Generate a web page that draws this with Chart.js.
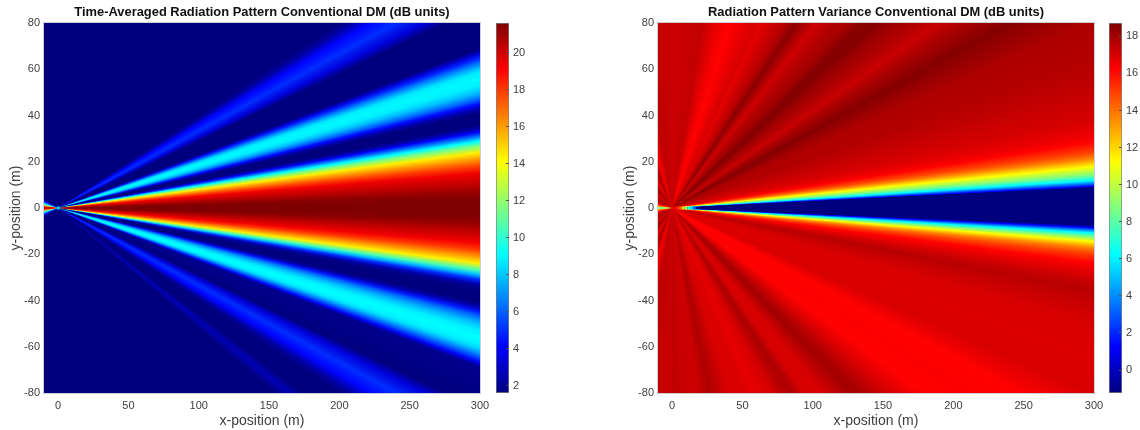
<!DOCTYPE html>
<html>
<head>
<meta charset="utf-8">
<script src="https://cdn.jsdelivr.net/npm/chart.js@4/dist/chart.umd.js"></script>
<style>
  body { margin: 0; background: #fff; width: 1140px; height: 430px; overflow: hidden; }
  canvas { position: absolute; top: 0; }
</style>
</head>
<body>
<canvas id="plotA" width="524" height="430" style="left:0"></canvas>
<canvas id="barA" width="45" height="430" style="left:490px"></canvas>
<canvas id="plotB" width="524" height="430" style="left:614px"></canvas>
<canvas id="barB" width="37" height="430" style="left:1103px"></canvas>
<script>
const xTicks = [0, 50, 100, 150, 200, 250, 300];
const yTicks = [-80, -60, -40, -20, 0, 20, 40, 60, 80];
const barTicksA = [2, 4, 6, 8, 10, 12, 14, 16, 18, 20];
const barTicksB = [0, 2, 4, 6, 8, 10, 12, 14, 16, 18];
const rangeA = [1.62, 21.6];
const rangeB = [-1.24, 18.72];

// readings along rays from the origin, keyed by the height the ray reaches at x=300
const edgeYA = [0, 3, 6, 9, 12, 15, 18, 21, 24, 27, 29, 31, 33, 34, 36, 41, 43, 45, 47, 50, 53, 56, 59, 61, 63, 65, 67, 69, 87, 92, 100, 108, 115, 120, 138, 146, 156, 90000];
const upperA = [21.6, 21.6, 21.3, 20.6, 20, 19.4, 17.9, 16.2, 14.4, 11.4, 9.1, 6.4, 4, 2.8, 1.62, 1.62, 2.6, 4.3, 6, 7.8, 8.8, 9, 8.7, 7.6, 6.3, 4.8, 3.2, 1.62, 1.62, 3.4, 5, 4.2, 2.2, 1.62, 1.62, 1.62, 1.62, 1.62];
const lowerA = [21.6, 21.6, 21.3, 20.6, 20, 19.3, 18, 16.2, 14.4, 10.6, 7.8, 5, 2.6, 2, 1.62, 1.62, 2.6, 4.6, 6.2, 7.8, 8.8, 9.1, 8.9, 8.3, 7, 5.5, 3.8, 1.9, 1.62, 3.4, 5, 4.2, 2.2, 1.62, 1.62, 2.7, 1.62, 1.62];

const edgeYUpperB = [0, 8.8, 9.4, 12, 14.3, 17.9, 21.5, 24, 28.7, 32, 38, 45, 55, 65, 80, 90, 100, 115, 126, 140, 155, 165, 178, 190, 205, 234, 255, 272, 300, 335, 375, 402, 480, 588, 750, 1100, 3150, 90000];
const upperB = [-1.24, -1.24, 1.26, 6.25, 8.7, 11.2, 13.7, 14.9, 16.2, 16.6, 17, 17.2, 17.5, 17.7, 17.8, 18.2, 18.6, 17.9, 17.3, 17.8, 18.2, 18.6, 18.5, 18, 17.8, 17.2, 17.9, 18.5, 17.6, 17.2, 16.8, 17, 16.6, 16.2, 16.6, 17.4, 17.3, 17.2];
const edgeYLowerB = [0, 7.6, 8.5, 10.8, 12.5, 14.5, 17.4, 20, 23.8, 28, 32, 36, 42, 50, 65, 80, 97, 115, 134, 155, 175, 189, 205, 225, 255, 280, 300, 340, 420, 450, 600, 900, 1300, 3000, 90000];
const lowerB = [-1.24, -1.24, 1.26, 6.25, 8.7, 11.2, 13.7, 15, 16.2, 16.8, 17.3, 17.6, 17.3, 17, 16.9, 17, 16.2, 16.3, 16.2, 17, 17.8, 18, 17.5, 17, 17, 17.8, 17.7, 17, 16.7, 16.9, 17, 17.8, 17.2, 17.3, 17.5];

// behind the array, keyed by the height at x=-10
const backYA = [0, 0.5, 1, 1.5, 2, 2.5, 3, 3.5, 4, 9000];
const backA = [20.5, 19.5, 15.5, 10.5, 8, 6, 4, 2.4, 1.62, 1.62];
const backYB = [0, 0.3, 0.6, 1, 1.5, 2.5, 4, 6, 8, 11, 15, 22, 40, 3000];
const backB = [6, 9, 12, 14.5, 16, 17.3, 17.8, 17, 18.2, 16.8, 18, 16.5, 17.5, 17.3];

// near field along y=0, which does not follow the rays
const nearXA = [-1, 1.5];
const nearA = [8, 8];
const nearXB = [0, 3, 5, 7, 9, 11, 13, 15, 17];
const nearB = [16.5, 15.5, 14, 12, 9, 7, 5.5, 3, 0];

const jetStops = [0, 1 / 8, 3 / 8, 5 / 8, 7 / 8, 1];
const jetColors = [[0, 0, 127], [0, 0, 255], [0, 255, 255], [255, 255, 0], [255, 0, 0], [127, 0, 0]];
const labelColor = '#404040';
const fontName = '"Liberation Sans", Arial, sans-serif';

const jet = (v, range) => {
    const t = Math.min(1, Math.max(0, (v - range[0]) / (range[1] - range[0])));
    let i = 0;
    while (i < jetStops.length - 2 && t > jetStops[i + 1]) i++;
    const f = (t - jetStops[i]) / (jetStops[i + 1] - jetStops[i]);
    const c = jetColors[i].map((a, k) => Math.round(a + (jetColors[i + 1][k] - a) * f));
    return `rgb(${c[0]},${c[1]},${c[2]})`;
};

// fill of one wedge, going from one reading to the next around the origin
const wedgeFill = (chart, ray1, ray2, c1, c2) => {
    const xs = chart.scales.x, ys = chart.scales.y;
    if (!chart.chartArea || !xs || !ys) return c1;
    const cx = xs.getPixelForValue(0), cy = ys.getPixelForValue(0);
    if (!isFinite(cx) || !isFinite(cy)) return c1;
    const angle = r => Math.atan2(ys.getPixelForValue(r.y) - cy, xs.getPixelForValue(r.x) - cx);
    let a1 = angle(ray1), a2 = angle(ray2);
    if (a2 - a1 > Math.PI) a2 -= 2 * Math.PI;
    if (a1 - a2 > Math.PI) a1 -= 2 * Math.PI;
    const lo = Math.min(a1, a2), hi = Math.max(a1, a2);
    const cLo = a1 < a2 ? c1 : c2, cHi = a1 < a2 ? c2 : c1;
    const pad = 0.02, turn = 2 * Math.PI;
    const g = chart.ctx.createConicGradient(lo - pad, cx, cy);
    g.addColorStop(0, cLo);
    g.addColorStop(pad / turn, cLo);
    g.addColorStop((hi - lo + pad) / turn, cHi);
    g.addColorStop((hi - lo + 2 * pad) / turn, cHi);
    g.addColorStop(1, cLo);
    return g;
};

const farPoint = (slope, side, dir) => {
    const t = Math.atan(slope);
    return { x: dir * 900 * Math.cos(t), y: side * 900 * Math.sin(t) };
};

// each wedge also reaches back under the one before it, so no seams show
const wedges = (heights, values, reach, side, dir, range) => {
    const sets = [];
    for (let i = 0; i < heights.length - 1; i++) {
        const s1 = heights[i] / reach, s2 = heights[i + 1] / reach;
        const under = i > 0 ? heights[i - 1] / reach : (side < 0 ? -s2 : 0);
        const c1 = jet(values[i], range), c2 = jet(values[i + 1], range);
        const r1 = farPoint(s1, side, dir), r2 = farPoint(s2, side, dir);
        sets.push({
            data: [{ x: 0, y: 0 }, farPoint(under, side, dir), r2],
            showLine: true,
            fill: 'shape',
            borderWidth: 0,
            borderColor: 'rgba(0,0,0,0)',
            pointRadius: 0,
            backgroundColor: ctx => wedgeFill(ctx.chart, r1, r2, c1, c2)
        });
    }
    return sets;
};

const nearLine = (xs, values, range) => xs.slice(1).map((x, i) => ({
    data: [{ x: xs[i], y: 0 }, { x: x, y: 0 }],
    showLine: true,
    fill: false,
    pointRadius: 0,
    borderWidth: 3,
    borderCapStyle: 'butt',
    borderColor: jet(values[i], range)
}));

const framePlugin = {
    id: 'frame',
    beforeDatasetsDraw(chart, args, opts) {
        const a = chart.chartArea, c = chart.ctx;
        c.save();
        c.fillStyle = opts.base;
        c.fillRect(a.left, a.top, a.right - a.left, a.bottom - a.top);
        c.restore();
    },
    afterDatasetsDraw(chart) {
        const a = chart.chartArea, c = chart.ctx;
        c.save();
        c.strokeStyle = 'rgba(190,190,205,0.75)';
        c.lineWidth = 1;
        c.strokeRect(a.left - 0.5, a.top - 0.5, a.right - a.left + 1, a.bottom - a.top + 1);
        c.restore();
    }
};

const makePlot = (id, title, base, datasets) => {
    const chart = new Chart(document.getElementById(id), {
        type: 'scatter',
        data: { datasets },
        plugins: [framePlugin],
        options: {
            responsive: false,
            animation: false,
            layout: { padding: { right: 44 } },
            plugins: {
                frame: { base },
                legend: { display: false },
                tooltip: { enabled: false },
                title: {
                    display: true,
                    fullSize: false,
                    text: title,
                    color: '#111',
                    font: { family: fontName, size: 12.9, weight: 'bold', lineHeight: 1.2 },
                    padding: { top: 5, bottom: 2.52 }
                }
            },
            scales: {
                x: {
                    type: 'linear', min: -10, max: 300,
                    afterBuildTicks: a => { a.ticks = xTicks.map(v => ({ value: v })); },
                    afterFit: a => { a.height = 37; },
                    grid: { display: false, drawTicks: false },
                    border: { display: false },
                    ticks: { color: labelColor, font: { family: fontName, size: 11 }, maxRotation: 0, padding: 6 },
                    title: { display: true, text: 'x-position (m)', color: labelColor, font: { family: fontName, size: 14 }, padding: { top: -1.5, bottom: 0 } }
                },
                y: {
                    type: 'linear', min: -80, max: 80,
                    afterBuildTicks: a => { a.ticks = yTicks.map(v => ({ value: v })); },
                    afterFit: a => { a.width = 44; },
                    grid: { display: false, drawTicks: false },
                    border: { display: false },
                    ticks: { color: labelColor, font: { family: fontName, size: 11 }, padding: 4 },
                    title: { display: true, text: 'y-position (m)', color: labelColor, font: { family: fontName, size: 14 }, padding: { top: 7.6, bottom: 0 } }
                }
            }
        }
    });
    chart.update();
    return chart;
};

const makeBar = (id, range, ticks, width) => new Chart(document.getElementById(id), {
    type: 'bar',
    data: {
        labels: [''],
        datasets: [{
            data: [range],
            barPercentage: 1,
            categoryPercentage: 1,
            borderWidth: 1,
            borderColor: '#808080',
            borderSkipped: false,
            backgroundColor: ctx => {
                const a = ctx.chart.chartArea;
                if (!a) return '#000';
                const g = ctx.chart.ctx.createLinearGradient(0, a.bottom, 0, a.top);
                jetStops.forEach((t, i) => g.addColorStop(t, `rgb(${jetColors[i].join(',')})`));
                return g;
            }
        }]
    },
    options: {
        responsive: false,
        animation: false,
        layout: { padding: { left: 6, top: 23, bottom: 37 } },
        plugins: { legend: { display: false }, tooltip: { enabled: false } },
        scales: {
            x: { display: false },
            y: {
                position: 'right',
                min: range[0], max: range[1],
                afterBuildTicks: a => { a.ticks = ticks.map(v => ({ value: v })); },
                afterFit: a => { a.width = width; },
                grid: { drawOnChartArea: false, tickLength: -3, z: 1, color: '#555', tickColor: '#555' },
                border: { display: false },
                ticks: { color: labelColor, font: { family: fontName, size: 11 }, padding: 7 }
            }
        }
    }
});

makePlot('plotA', 'Time-Averaged Radiation Pattern Conventional DM (dB units)', jet(rangeA[0], rangeA), [
    ...nearLine(nearXA, nearA, rangeA),
    ...wedges(edgeYA, upperA, 300, 1, 1, rangeA),
    ...wedges(edgeYA, lowerA, 300, -1, 1, rangeA),
    ...wedges(backYA, backA, 10, 1, -1, rangeA),
    ...wedges(backYA, backA, 10, -1, -1, rangeA)
]);
makePlot('plotB', 'Radiation Pattern Variance Conventional DM (dB units)', jet(17.3, rangeB), [
    ...nearLine(nearXB, nearB, rangeB),
    ...wedges(edgeYUpperB, upperB, 300, 1, 1, rangeB),
    ...wedges(edgeYLowerB, lowerB, 300, -1, 1, rangeB),
    ...wedges(backYB, backB, 10, 1, -1, rangeB),
    ...wedges(backYB, backB, 10, -1, -1, rangeB)
]);
makeBar('barA', rangeA, barTicksA, 26);
makeBar('barB', rangeB, barTicksB, 18);
</script>
</body>
</html>
